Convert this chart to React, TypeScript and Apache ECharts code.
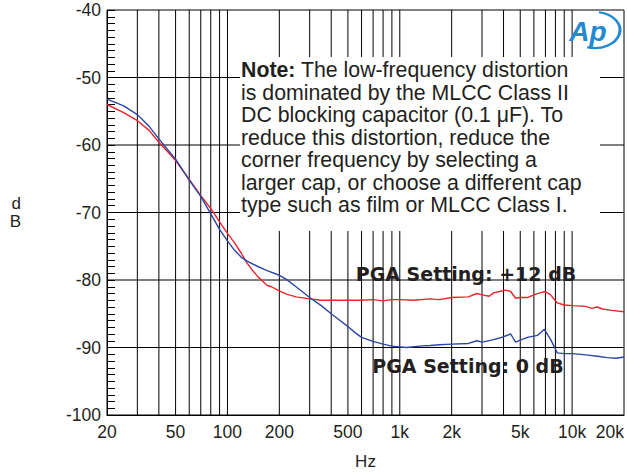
import React, { useEffect, useRef } from "react";
import * as echarts from "echarts";

// Frequencies (Hz) and THD+N (dB)
const freqRed = [20, 25, 30, 35, 40, 45, 50, 60, 70, 80, 90, 100, 110, 120, 130, 140, 150, 160, 170, 180, 200, 220, 250, 300, 350, 400, 500, 600, 700, 800, 900, 1000, 1200, 1500, 1700, 2000, 2500, 2800, 3000, 3300, 3500, 3800, 4100, 4400, 4700, 5000, 5500, 6000, 6500, 7000, 7500, 8200, 9000, 10000, 12000, 13000, 14000, 15000, 17000, 20000];
const valRed = [-54.0, -55.2, -56.4, -57.8, -59.6, -61.0, -62.3, -65.1, -67.5, -69.4, -71.4, -73.1, -74.5, -76.0, -77.5, -78.6, -79.5, -80.2, -80.8, -81.0, -81.6, -82.1, -82.5, -82.8, -83.0, -83.0, -83.0, -83.0, -82.9, -83.1, -82.9, -82.9, -83.0, -82.8, -82.9, -82.6, -82.5, -82.0, -82.2, -82.4, -81.9, -81.7, -81.5, -81.7, -82.7, -82.6, -82.6, -82.2, -81.9, -81.7, -82.2, -83.4, -83.7, -83.8, -83.9, -84.2, -84.0, -84.3, -84.5, -84.7];

const freqBlue = [20, 25, 30, 35, 40, 45, 50, 60, 70, 80, 90, 100, 110, 120, 130, 150, 170, 200, 220, 250, 300, 350, 400, 450, 500, 550, 600, 700, 800, 900, 1000, 1100, 1300, 1500, 1700, 2000, 2500, 2800, 3000, 3400, 3800, 4100, 4400, 4700, 5000, 5500, 6300, 6900, 7500, 8200, 9000, 10000, 12000, 14000, 16000, 18000, 20000];
const valBlue = [-53.2, -54.2, -55.5, -57.2, -59.1, -60.7, -62.1, -65.2, -67.6, -70.2, -72.5, -74.2, -75.6, -76.6, -77.2, -78.0, -78.6, -79.3, -79.9, -81.0, -82.6, -83.8, -85.0, -86.0, -86.9, -87.8, -88.5, -89.1, -89.5, -89.8, -89.9, -90.0, -89.8, -89.7, -89.6, -89.5, -89.4, -89.0, -89.2, -88.9, -88.6, -88.3, -88.0, -89.2, -88.9, -88.5, -88.2, -87.3, -88.8, -90.8, -90.9, -90.9, -91.1, -91.3, -91.5, -91.6, -91.4];

const gridFreqs = [30, 40, 50, 60, 70, 80, 90, 100, 200, 300, 400, 500, 600, 700, 800, 900, 1000, 2000, 3000, 4000, 5000, 6000, 7000, 8000, 9000, 10000];
const gridDb = [-90, -80, -70, -60, -50];
const labelFreqs = [20, 50, 100, 200, 500, 1000, 2000, 5000, 10000, 20000];

const noteLines = [
  "{b|Note:} The low-frequency distortion",
  "is dominated by the MLCC Class II",
  "DC blocking capacitor (0.1 μF). To",
  "reduce this distortion, reduce the",
  "corner frequency by selecting a",
  "larger cap, or choose a different cap",
  "type such as film or MLCC Class I.",
];

const labelRed = "PGA Setting: +12 dB";
const labelBlue = "PGA Setting: 0 dB";

const fmtHz = (v: number) => (v >= 1000 ? `${Math.round(v / 1000)}k` : `${Math.round(v)}`);

const X_MIN = 20;
const X_MAX = 20000;
const Y_MIN = -100;
const Y_MAX = -40;
// pixel box of the note, where the grid is interrupted
const BOX = { l: 240, r: 600, t: 57, b: 231 };

const lineEl = (x1: number, y1: number, x2: number, y2: number) => ({
  type: "line",
  shape: { x1, y1, x2, y2 },
  style: { stroke: "#000", lineWidth: 1 },
});

export default function App() {
  const ref = useRef<HTMLDivElement>(null);
  useEffect(() => {
    if (!ref.current) return;
    const chart = echarts.init(ref.current, null, { renderer: "svg" });
    const font = "Liberation Sans, Arial, sans-serif";
    chart.setOption({
      animation: false,
      backgroundColor: "#fff",
      title: {
        text: noteLines.join("\n"),
        left: 240,
        top: 57,
        z: 20,
        backgroundColor: "#ffffff",
        padding: [2, 12, 13, 1],
        textStyle: {
          fontSize: 21.3,
          fontWeight: "normal",
          fontFamily: font,
          color: "#231f20",
          lineHeight: 22.5,
          rich: { b: { fontWeight: "bold", fontSize: 21.3, fontFamily: font, color: "#231f20", lineHeight: 22.5 } },
        },
      },
      grid: { left: 107, right: 1, top: 10, bottom: 60, show: true, borderColor: "#000", borderWidth: 1 },
      xAxis: {
        type: "log",
        logBase: 10,
        min: X_MIN,
        max: X_MAX,
        axisLine: { show: true, onZero: false, lineStyle: { color: "#000", width: 1 } },
        axisTick: { show: false },
        axisLabel: {
          customValues: labelFreqs,
          formatter: (v: number) => fmtHz(v),
          fontSize: 17.5,
          fontFamily: font,
          color: "#231f20",
          margin: 8,
          alignMaxLabel: "right",
        },
        splitLine: { show: false },
        name: "Hz",
        nameLocation: "middle",
        nameGap: 38,
        nameTextStyle: { fontSize: 17, fontFamily: font, color: "#231f20" },
      },
      yAxis: {
        type: "value",
        min: Y_MIN,
        max: Y_MAX,
        interval: 10,
        axisLine: { show: true, lineStyle: { color: "#000", width: 1 } },
        axisTick: { show: true, inside: true, length: 8, lineStyle: { color: "#000" } },
        minorTick: { show: true, splitNumber: 10, length: 8, lineStyle: { color: "#000" } },
        axisLabel: { fontSize: 17.5, fontFamily: font, color: "#231f20", margin: 6 },
        splitLine: { show: false },
        name: "d\nB",
        nameLocation: "middle",
        nameRotate: 0,
        nameGap: 86,
        nameTextStyle: { fontSize: 17, fontFamily: font, color: "#231f20", lineHeight: 18 },
      },
      series: [
        {
          type: "custom",
          name: "vgrid",
          silent: true,
          z: 1,
          data: gridFreqs.map((f) => [f, Y_MIN]),
          encode: { x: 0, y: 1 },
          renderItem: (params: any, api: any) => {
            const f = api.value(0);
            const top = api.coord([f, Y_MAX]);
            const bot = api.coord([f, Y_MIN]);
            const x = top[0];
            const children =
              x > BOX.l && x < BOX.r
                ? [lineEl(x, top[1], x, BOX.t), lineEl(x, BOX.b, x, bot[1])]
                : [lineEl(x, top[1], x, bot[1])];
            return { type: "group", children };
          },
        },
        {
          type: "custom",
          name: "hgrid",
          silent: true,
          z: 1,
          data: gridDb.map((d) => [X_MIN, d]),
          encode: { x: 0, y: 1 },
          renderItem: (params: any, api: any) => {
            const d = api.value(1);
            const left = api.coord([X_MIN, d]);
            const right = api.coord([X_MAX, d]);
            const y = left[1];
            const children =
              y > BOX.t && y < BOX.b
                ? [lineEl(left[0], y, BOX.l, y), lineEl(BOX.r, y, right[0], y)]
                : [lineEl(left[0], y, right[0], y)];
            return { type: "group", children };
          },
        },
        {
          type: "line",
          name: "+12 dB",
          data: freqRed.map((f, i) => [f, valRed[i]]),
          symbol: "none",
          lineStyle: { color: "#f0222a", width: 1.4 },
          z: 30,
        },
        {
          type: "line",
          name: "0 dB",
          data: freqBlue.map((f, i) => [f, valBlue[i]]),
          symbol: "none",
          lineStyle: { color: "#2b46a6", width: 1.4 },
          z: 30,
        },
      ],
      graphic: {
        elements: [
          {
            type: "text",
            z: 70,
            style: { text: labelRed, x: 466, y: 274, align: "center", verticalAlign: "middle", fontSize: 19, fontWeight: "bold", fontFamily: "DejaVu Sans", fill: "#231f20" },
          },
          {
            type: "text",
            z: 70,
            style: { text: labelBlue, x: 468, y: 366, align: "center", verticalAlign: "middle", fontSize: 19, fontWeight: "bold", fontFamily: "DejaVu Sans", fill: "#231f20" },
          },
          {
            type: "arc",
            z: 70,
            x: 595,
            y: 30,
            scaleY: 0.72,
            shape: { cx: 0, cy: 0, r: 25, startAngle: -Math.PI * 0.45, endAngle: Math.PI * 0.6 },
            style: { stroke: "#1f8ad2", lineWidth: 3, fill: "none" },
          },
          {
            type: "text",
            z: 70,
            style: { text: "Ap", x: 588, y: 31, align: "center", verticalAlign: "middle", fontSize: 28, fontWeight: "bold", fontStyle: "italic", fontFamily: font, fill: "#1f8ad2" },
          },
        ],
      },
    });
    return () => chart.dispose();
  }, []);
  return <div ref={ref} style={{ position: "fixed", left: 0, top: 0, width: 627, height: 475 }} />;
}
